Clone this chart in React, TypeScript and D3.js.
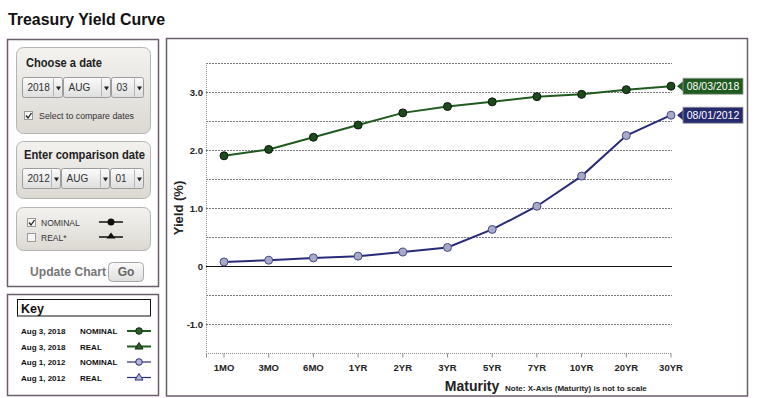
import React, { useEffect, useRef } from 'react';
import * as d3 from 'd3';

const maturities = ['1MO', '3MO', '6MO', '1YR', '2YR', '3YR', '5YR', '7YR', '10YR', '20YR', '30YR'];
const yields2018 = [1.9, 2.01, 2.22, 2.43, 2.64, 2.75, 2.83, 2.92, 2.96, 3.04, 3.1];
const yields2012 = [0.07, 0.1, 0.14, 0.17, 0.24, 0.32, 0.63, 1.03, 1.55, 2.25, 2.6];
const yTickValues = [-1, 0, 1, 2, 3];
const yTickLabels = ['-1.0', '0', '1.0', '2.0', '3.0'];
const yGridValues = [-1.5, -1, -0.5, 0, 0.5, 1, 1.5, 2, 2.5, 3, 3.5];
const seriesLabels = ['08/03/2018', '08/01/2012'];
const keyRows = [
  { date: 'Aug 3, 2018', kind: 'NOMINAL' },
  { date: 'Aug 3, 2018', kind: 'REAL' },
  { date: 'Aug 1, 2012', kind: 'NOMINAL' },
  { date: 'Aug 1, 2012', kind: 'REAL' },
];

const FONT = 'Arial, "Liberation Sans", Helvetica, sans-serif';
const GREEN = '#1f5a1f';
const NAVY = '#282c78';
const FRAME = '#6b5c6e';

type G = d3.Selection<SVGGElement, unknown, null, undefined>;

function drawSelect(g: G, x: number, y: number, w: number, label: string) {
  const h = 20;
  g.append('rect')
    .attr('x', x).attr('y', y).attr('width', w).attr('height', h)
    .attr('rx', 2)
    .attr('fill', 'url(#selGrad)')
    .attr('stroke', '#9c9c9c');
  g.append('line')
    .attr('x1', x + w - 9).attr('x2', x + w - 9)
    .attr('y1', y + 1).attr('y2', y + h - 1)
    .attr('stroke', '#b5b5b5');
  g.append('path')
    .attr('d', `M${x + w - 6.5},${y + 9} l5,0 l-2.5,4 z`)
    .attr('fill', '#222');
  g.append('text')
    .attr('x', x + 5).attr('y', y + 13.5)
    .attr('font-size', 10)
    .attr('fill', '#333')
    .text(label);
}

function drawCheckbox(g: G, x: number, y: number, checked: boolean) {
  g.append('rect')
    .attr('x', x).attr('y', y).attr('width', 8).attr('height', 8)
    .attr('fill', '#f6f6f6').attr('stroke', '#9a9a9a');
  if (checked) {
    g.append('path')
      .attr('d', `M${x + 1.5},${y + 4} l2,2.5 l3.5,-5`)
      .attr('fill', 'none').attr('stroke', '#222').attr('stroke-width', 1.3);
  }
}

const App: React.FC = () => {
  const svgRef = useRef<SVGSVGElement | null>(null);

  useEffect(() => {
    if (!svgRef.current) return;
    const width = 767;
    const height = 398;
    const svg = d3.select(svgRef.current);
    svg.selectAll('*').remove();
    svg.attr('width', width).attr('height', height).attr('viewBox', `0 0 ${width} ${height}`)
      .style('font-family', FONT);

    const defs = svg.append('defs');
    const pg = defs.append('linearGradient').attr('id', 'panelGrad').attr('x1', 0).attr('y1', 0).attr('x2', 0).attr('y2', 1);
    pg.append('stop').attr('offset', '0%').attr('stop-color', '#f3f2ef');
    pg.append('stop').attr('offset', '100%').attr('stop-color', '#dcd9d2');
    const sg = defs.append('linearGradient').attr('id', 'selGrad').attr('x1', 0).attr('y1', 0).attr('x2', 0).attr('y2', 1);
    sg.append('stop').attr('offset', '0%').attr('stop-color', '#fbfbfb');
    sg.append('stop').attr('offset', '100%').attr('stop-color', '#dedede');

    svg.append('rect').attr('width', width).attr('height', height).attr('fill', '#fff');

    // Title
    svg.append('text')
      .attr('x', 8).attr('y', 25)
      .attr('font-size', 16).attr('font-weight', 'bold').attr('fill', '#111')
      .attr('textLength', 157).attr('lengthAdjust', 'spacingAndGlyphs')
      .text('Treasury Yield Curve');

    // ---- Left control panel ----
    const left = svg.append('g');
    left.append('rect')
      .attr('x', 7.5).attr('y', 39.5).attr('width', 151).attr('height', 247)
      .attr('fill', 'none').attr('stroke', FRAME).attr('stroke-width', 1.5);

    const panel = (y: number, h: number) =>
      left.append('rect')
        .attr('x', 16.5).attr('y', y).attr('width', 134).attr('height', h)
        .attr('rx', 7)
        .attr('fill', 'url(#panelGrad)').attr('stroke', '#b4b4b4');

    panel(47.5, 86);
    left.append('text').attr('x', 26).attr('y', 67)
      .attr('font-size', 12).attr('font-weight', 'bold').attr('fill', '#222')
      .attr('textLength', 76).attr('lengthAdjust', 'spacingAndGlyphs')
      .text('Choose a date');
    drawSelect(left, 22.5, 77.5, 40, '2018');
    drawSelect(left, 63.5, 77.5, 47, 'AUG');
    drawSelect(left, 111.5, 77.5, 32, '03');
    drawCheckbox(left, 24.5, 111.5, true);
    left.append('text').attr('x', 39).attr('y', 119)
      .attr('font-size', 8.5).attr('fill', '#333')
      .attr('textLength', 95).attr('lengthAdjust', 'spacingAndGlyphs')
      .text('Select to compare dates');

    panel(141.5, 57);
    left.append('text').attr('x', 24).attr('y', 159)
      .attr('font-size', 12).attr('font-weight', 'bold').attr('fill', '#222')
      .attr('textLength', 121).attr('lengthAdjust', 'spacingAndGlyphs')
      .text('Enter comparison date');
    drawSelect(left, 22.5, 168.5, 38, '2012');
    drawSelect(left, 61.5, 168.5, 48, 'AUG');
    drawSelect(left, 110.5, 168.5, 33, '01');

    panel(207.5, 43);
    drawCheckbox(left, 27.5, 218.5, true);
    left.append('text').attr('x', 41).attr('y', 226)
      .attr('font-size', 8.5).attr('fill', '#333').text('NOMINAL');
    drawCheckbox(left, 27.5, 233.5, false);
    left.append('text').attr('x', 41).attr('y', 241)
      .attr('font-size', 8.5).attr('fill', '#333').text('REAL*');
    left.append('line').attr('x1', 99).attr('x2', 123).attr('y1', 222).attr('y2', 222).attr('stroke', '#111').attr('stroke-width', 1.5);
    left.append('circle').attr('cx', 111).attr('cy', 222).attr('r', 3.5).attr('fill', '#111');
    left.append('line').attr('x1', 99).attr('x2', 123).attr('y1', 237).attr('y2', 237).attr('stroke', '#111').attr('stroke-width', 1.5);
    left.append('path').attr('d', 'M111,232.5 l4.5,6 l-9,0 z').attr('fill', '#111');

    left.append('text').attr('x', 30).attr('y', 276)
      .attr('font-size', 12).attr('font-weight', 'bold').attr('fill', '#777')
      .attr('textLength', 76).attr('lengthAdjust', 'spacingAndGlyphs')
      .text('Update Chart');
    left.append('rect').attr('x', 108.5).attr('y', 262.5).attr('width', 35).attr('height', 19)
      .attr('rx', 4).attr('fill', 'url(#selGrad)').attr('stroke', '#a8a8a8');
    left.append('text').attr('x', 126).attr('y', 276).attr('text-anchor', 'middle')
      .attr('font-size', 12).attr('font-weight', 'bold').attr('fill', '#666')
      .text('Go');

    // ---- Key ----
    const key = svg.append('g');
    key.append('rect')
      .attr('x', 7.5).attr('y', 294.5).attr('width', 151).attr('height', 101)
      .attr('fill', 'none').attr('stroke', FRAME).attr('stroke-width', 1.5);
    key.append('rect')
      .attr('x', 17.5).attr('y', 299.5).attr('width', 133).attr('height', 16.5)
      .attr('fill', 'none').attr('stroke', '#111');
    key.append('text').attr('x', 21).attr('y', 313)
      .attr('font-size', 12.5).attr('font-weight', 'bold').attr('fill', '#111').text('Key');

    keyRows.forEach((r, i) => {
      const y = 331 + i * 15.5;
      const is2018 = r.date.endsWith('2018');
      const color = is2018 ? GREEN : NAVY;
      key.append('text').attr('x', 21).attr('y', y + 3)
        .attr('font-size', 8).attr('font-weight', 'bold').attr('fill', '#111').text(r.date);
      key.append('text').attr('x', 80).attr('y', y + 3)
        .attr('font-size', 8).attr('font-weight', 'bold').attr('fill', '#111').text(r.kind);
      key.append('line').attr('x1', 127).attr('x2', 151).attr('y1', y).attr('y2', y)
        .attr('stroke', color).attr('stroke-width', is2018 ? 2 : 1.2);
      const mFill = is2018 ? '#2c5e2c' : '#b5b8d0';
      const mStroke = is2018 ? '#0f2a0f' : NAVY;
      if (r.kind === 'NOMINAL') {
        key.append('circle').attr('cx', 139).attr('cy', y).attr('r', 3.3)
          .attr('fill', mFill).attr('stroke', mStroke);
      } else {
        key.append('path').attr('d', `M139,${y - 4} l4,6.5 l-8,0 z`)
          .attr('fill', mFill).attr('stroke', mStroke);
      }
    });

    // ---- Chart frame ----
    svg.append('rect')
      .attr('x', 166.5).attr('y', 38.5).attr('width', 581).attr('height', 357.5)
      .attr('fill', 'none').attr('stroke', FRAME).attr('stroke-width', 1.5);

    const plotLeft = 206;
    const plotRight = 672;
    const x = d3.scalePoint<string>().domain(maturities).range([224, 671]);
    const y = d3.scaleLinear().domain([-1.5, 3.5]).range([353, 63]);

    const chart = svg.append('g');

    // Grid lines
    chart.selectAll('line.grid')
      .data(yGridValues.filter(v => v !== 0 && v !== -1.5))
      .enter()
      .append('line')
      .attr('class', 'grid')
      .attr('x1', plotLeft).attr('x2', plotRight)
      .attr('y1', d => Math.round(y(d)) + 0.5).attr('y2', d => Math.round(y(d)) + 0.5)
      .attr('stroke', '#7a7a7a').attr('stroke-width', 1)
      .attr('stroke-dasharray', '2,1');

    // Zero line
    chart.append('line')
      .attr('x1', plotLeft).attr('x2', plotRight)
      .attr('y1', Math.round(y(0)) + 0.5).attr('y2', Math.round(y(0)) + 0.5)
      .attr('stroke', '#111').attr('stroke-width', 1);

    // Y axis (left dotted line + labels)
    chart.append('line')
      .attr('x1', plotLeft + 0.5).attr('x2', plotLeft + 0.5)
      .attr('y1', y(3.5)).attr('y2', y(-1.5))
      .attr('stroke', '#8a8a8a').attr('stroke-dasharray', '1,1');

    chart.selectAll('text.ytick')
      .data(yTickValues)
      .enter()
      .append('text')
      .attr('class', 'ytick')
      .attr('x', 203)
      .attr('y', d => y(d) + 3.5)
      .attr('text-anchor', 'end')
      .attr('font-size', 9.5).attr('font-weight', 'bold').attr('fill', '#222')
      .text((_, i) => yTickLabels[i]);

    // X axis
    const xAxis = chart.append('g')
      .attr('transform', `translate(0, ${Math.round(y(-1.5)) + 0.5})`);
    xAxis.append('line')
      .attr('x1', plotLeft).attr('x2', plotRight)
      .attr('stroke', '#8a8a8a').attr('stroke-dasharray', '1,1');
    xAxis.selectAll('line.tick')
      .data([plotLeft + 0.5, ...maturities.map(m => x(m)!)])
      .enter()
      .append('line')
      .attr('class', 'tick')
      .attr('x1', d => d).attr('x2', d => d)
      .attr('y1', 0).attr('y2', 4)
      .attr('stroke', '#8a8a8a');
    xAxis.selectAll('text')
      .data(maturities)
      .enter()
      .append('text')
      .attr('x', d => x(d)!)
      .attr('y', 17.5)
      .attr('text-anchor', 'middle')
      .attr('font-size', 9.5).attr('font-weight', 'bold').attr('fill', '#222')
      .text(d => d);

    // Axis titles
    chart.append('text')
      .attr('transform', 'translate(183, 208) rotate(-90)')
      .attr('text-anchor', 'middle')
      .attr('font-size', 13).attr('font-weight', 'bold').attr('fill', '#222')
      .text('Yield (%)');
    chart.append('text')
      .attr('x', 472).attr('y', 391)
      .attr('text-anchor', 'middle')
      .attr('font-size', 14).attr('font-weight', 'bold').attr('fill', '#222')
      .text('Maturity');
    chart.append('text')
      .attr('x', 505).attr('y', 391)
      .attr('font-size', 8).attr('font-weight', 'bold').attr('fill', '#222')
      .text('Note: X-Axis (Maturity) is not to scale');

    // Series
    const series = [
      { values: yields2018, line: GREEN, fill: '#1d4a1d', stroke: '#0a1a0a', label: seriesLabels[0], box: '#1f5a1f' },
      { values: yields2012, line: NAVY, fill: '#a6aac6', stroke: '#454a8c', label: seriesLabels[1], box: '#262a6e' },
    ];

    const line = d3.line<number>()
      .x((_, i) => x(maturities[i])!)
      .y(d => y(d));

    series.forEach(s => {
      chart.append('path')
        .datum(s.values)
        .attr('fill', 'none')
        .attr('stroke', s.line)
        .attr('stroke-width', 2)
        .attr('d', line);

      chart.selectAll(null)
        .data(s.values)
        .enter()
        .append('circle')
        .attr('cx', (_, i) => x(maturities[i])!)
        .attr('cy', d => y(d))
        .attr('r', 4)
        .attr('fill', s.fill)
        .attr('stroke', s.stroke)
        .attr('stroke-width', 1);

      // End label
      const last = s.values[s.values.length - 1];
      const ly = y(last);
      const bx = 683;
      const bw = 60;
      const bh = 16;
      const lbl = chart.append('g');
      lbl.append('path')
        .attr('d', `M${bx - 6},${ly} L${bx},${ly - 5} L${bx},${ly + 5} Z`)
        .attr('fill', s.box);
      lbl.append('rect')
        .attr('x', bx).attr('y', ly - bh / 2)
        .attr('width', bw).attr('height', bh)
        .attr('fill', s.box)
        .attr('stroke', '#9a9a9a').attr('stroke-width', 0.8);
      lbl.append('text')
        .attr('x', bx + bw / 2).attr('y', ly + 4)
        .attr('text-anchor', 'middle')
        .attr('font-size', 10.5).attr('fill', '#fff')
        .text(s.label);
    });
  }, []);

  return (
    <div style={{ position: 'absolute', left: 0, top: 0 }}>
      <svg ref={svgRef} style={{ display: 'block' }} />
    </div>
  );
};

export default App;
